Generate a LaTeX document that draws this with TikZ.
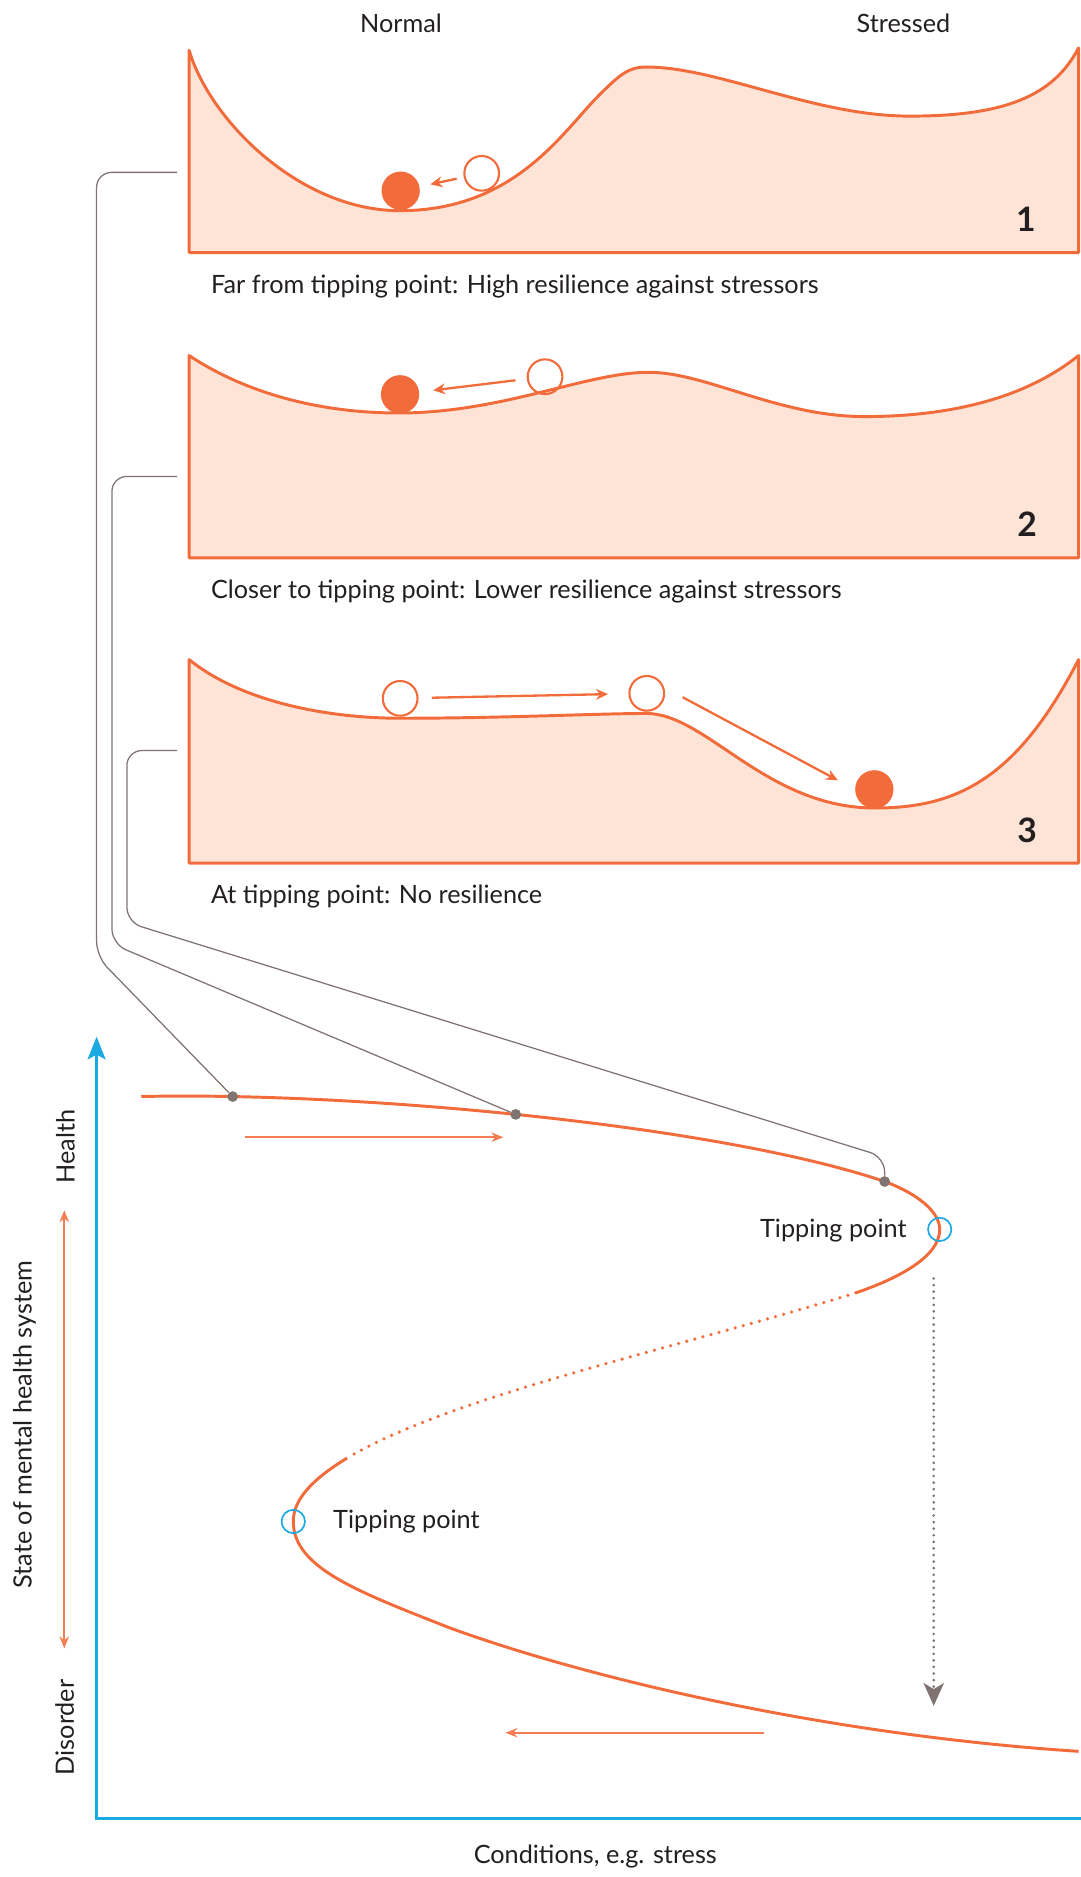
\documentclass[tikz,border=0pt]{standalone}
\usepackage{fontspec}
\setmainfont{Lato}
\usetikzlibrary{arrows.meta,positioning}

\definecolor{tiporange}{HTML}{F26B3A}
\definecolor{lightorange}{HTML}{F47D52}
\definecolor{peach}{HTML}{FDE4D6}
\definecolor{tipblue}{HTML}{1AA9E1}
\definecolor{linkgrey}{HTML}{7F7471}
\definecolor{ink}{HTML}{231F20}

\tikzset{
  land/.style={draw=tiporange, fill=peach, line width=1.4pt, line join=round},
  ball/.style={circle, inner sep=0pt, minimum size=6.4mm, fill=tiporange},
  ring/.style={circle, inner sep=0pt, minimum size=5.8mm, draw=tiporange, line width=1pt},
  roll/.style={draw=tiporange, line width=1.1pt, -{Stealth[length=2mm,width=1.8mm]}},
  link/.style={draw=linkgrey, line width=0.6pt, rounded corners=2.5mm},
  dot/.style={circle, inner sep=0pt, minimum size=1.8mm, fill=linkgrey},
  branch/.style={draw=tiporange, line width=1.4pt},
  unstable/.style={draw=tiporange, line width=1.7pt, line cap=round, dash pattern=on 0pt off 1.4mm},
  drift/.style={draw=lightorange, line width=0.8pt},
  jump/.style={draw=linkgrey, line width=1.4pt, line cap=round, dash pattern=on 0pt off 1.1mm, -{Stealth[length=3.8mm,width=3.4mm,inset=1mm]}},
  tip/.style={circle, draw=tipblue, line width=0.8pt, minimum size=3.9mm, inner sep=0pt},
  lbl/.style={inner sep=0pt, text=ink, font=\fontsize{12}{14}\selectfont},
  num/.style={inner sep=0pt, text=ink, font=\fontsize{16}{18}\selectfont\bfseries},
}

\begin{document}
\begin{tikzpicture}[x=0.2mm, y=-0.2mm, >={Stealth[length=2mm,width=1.6mm]}]
\useasboundingbox (0,0) rectangle (903,1568);

% landscapes
\node[lbl, anchor=base] (normal) at (335,27.3) {Normal};
\node[lbl, anchor=base] (stressed) at (754.7,27.3) {Stressed};

\draw[land] (158,211) -- (158,42) .. controls (175,100) and (250,176) .. (334,176) .. controls (430,176) and (470,110) .. (500,80) .. controls (518,62) and (525,56) .. (540,56) .. controls (600,56) and (680,97) .. (760,97) .. controls (840,97) and (880,80) .. (901,40) -- (901,211) -- cycle;
\node[ball] (f1) at (334.7,159.3) {};
\node[ring] (h1) at (402.4,144.8) {};
\draw[roll, shorten <=1.2mm, shorten >=1.8mm] (h1) -- (f1);
\node[num, anchor=base] (n1) at (857,193) {1};
\node[lbl, anchor=base west] (cap1) at (176,245) {Far from tipping point: High resilience against stressors};

\draw[land] (158,466) -- (158,297) .. controls (200,325) and (260,345) .. (333,345) .. controls (420,345) and (490,311) .. (542,311) .. controls (590,311) and (650,348) .. (722,348) .. controls (800,348) and (860,330) .. (901,297) -- (901,466) -- cycle;
\node[ball] (f2) at (334.2,329.4) {};
\node[ring] (h2) at (455.3,314.7) {};
\draw[roll, shorten <=1.9mm, shorten >=2.3mm] (h2) -- (f2);
\node[num, anchor=base] (n2) at (858,448) {2};
\node[lbl, anchor=base west] (cap2) at (176,500) {Closer to tipping point: Lower resilience against stressors};

\draw[land] (158,721) -- (158,551) .. controls (200,585) and (270,600) .. (335,600) .. controls (420,600) and (500,596) .. (540,596) .. controls (590,596) and (640,675) .. (731,675) .. controls (800,675) and (850,650) .. (901,551) -- (901,721) -- cycle;
\node[ring] (h3a) at (334.3,583.4) {};
\node[ring] (h3b) at (540.3,579.2) {};
\node[ball] (f3) at (730.4,659.4) {};
\draw[roll, shorten <=2.2mm, shorten >=3.4mm] (h3a) -- (h3b);
\draw[roll, shorten <=3.5mm, shorten >=3.2mm] (h3b.19) -- (f3.west);
\node[num, anchor=base] (n3) at (858,704) {3};
\node[lbl, anchor=base west] (cap3) at (176,755) {At tipping point: No resilience};

% axes
\draw[tipblue, line width=1.4pt, line join=miter, {Stealth[length=3.8mm,width=3mm,inset=0.8mm]}-] (80.7,866) -- (80.7,1519) -- (903,1519);
\node[lbl, rotate=90, anchor=base] (health) at (62.3,958) {Health};
\node[lbl, rotate=90, anchor=base] (disorder) at (61.8,1443) {Disorder};
\node[lbl, rotate=90, anchor=base] (state) at (26.5,1190) {State of mental health system};
\node[lbl, anchor=base] (cond) at (497.3,1556.6) {Conditions, e.g. stress};
\coordinate (up) at (53.7,1011);
\coordinate (down) at (53.7,1377);
\draw[drift, <->] (up) -- (down);

% fold curve
\draw[branch] (118,916) .. controls (300,912) and (600,940) .. (739,987) coordinate[pos=0.13] (p1) coordinate[pos=0.48] (p2) coordinate (p3)
  .. controls (766,997) and (785,1012) .. (785,1027) coordinate (t1)
  .. controls (785,1050) and (750,1068) .. (715,1080) coordinate (u1);
\draw[unstable] (u1) .. controls (560,1128) and (380,1165) .. (290,1218) coordinate (u2);
\draw[branch] (u2) .. controls (262,1235) and (245,1252) .. (245,1271) coordinate (t2)
  .. controls (245,1310) and (300,1330) .. (376,1360) .. controls (500,1405) and (700,1450) .. (901,1463);

\node[tip] (tp1) at (t1) {};
\node[tip] (tp2) at (t2) {};
\node[lbl, anchor=base east] (tl1) at (757.6,1034) {Tipping point};
\node[lbl, anchor=base west] (tl2) at (278,1277) {Tipping point};

\coordinate (r1) at (204.7,950);
\coordinate (r2) at (420.5,950);
\coordinate (l1) at (638.2,1447.5);
\coordinate (l2) at (422.3,1447.5);
\draw[drift, ->] (r1) -- (r2);
\draw[drift, ->] (l1) -- (l2);
\coordinate (j1) at (780,1068);
\coordinate (j2) at (780,1425);
\draw[jump] (j1) -- (j2);

% links from landscapes to curve
\node[dot] (d1) at (p1) {};
\node[dot] (d2) at (p2) {};
\node[dot] (d3) at (p3) {};
\coordinate (k1) at (148,144);
\coordinate (k2) at (148,398);
\coordinate (k3) at (148,627);
\draw[link] (k1) -| (80.7,799) -- (d1);
\draw[link] (k2) -| (93.5,788.5) -- (d2);
\draw[link] (k3) -| (106,770.4) -- (739,966.5) -- (d3);
\end{tikzpicture}
\end{document}
